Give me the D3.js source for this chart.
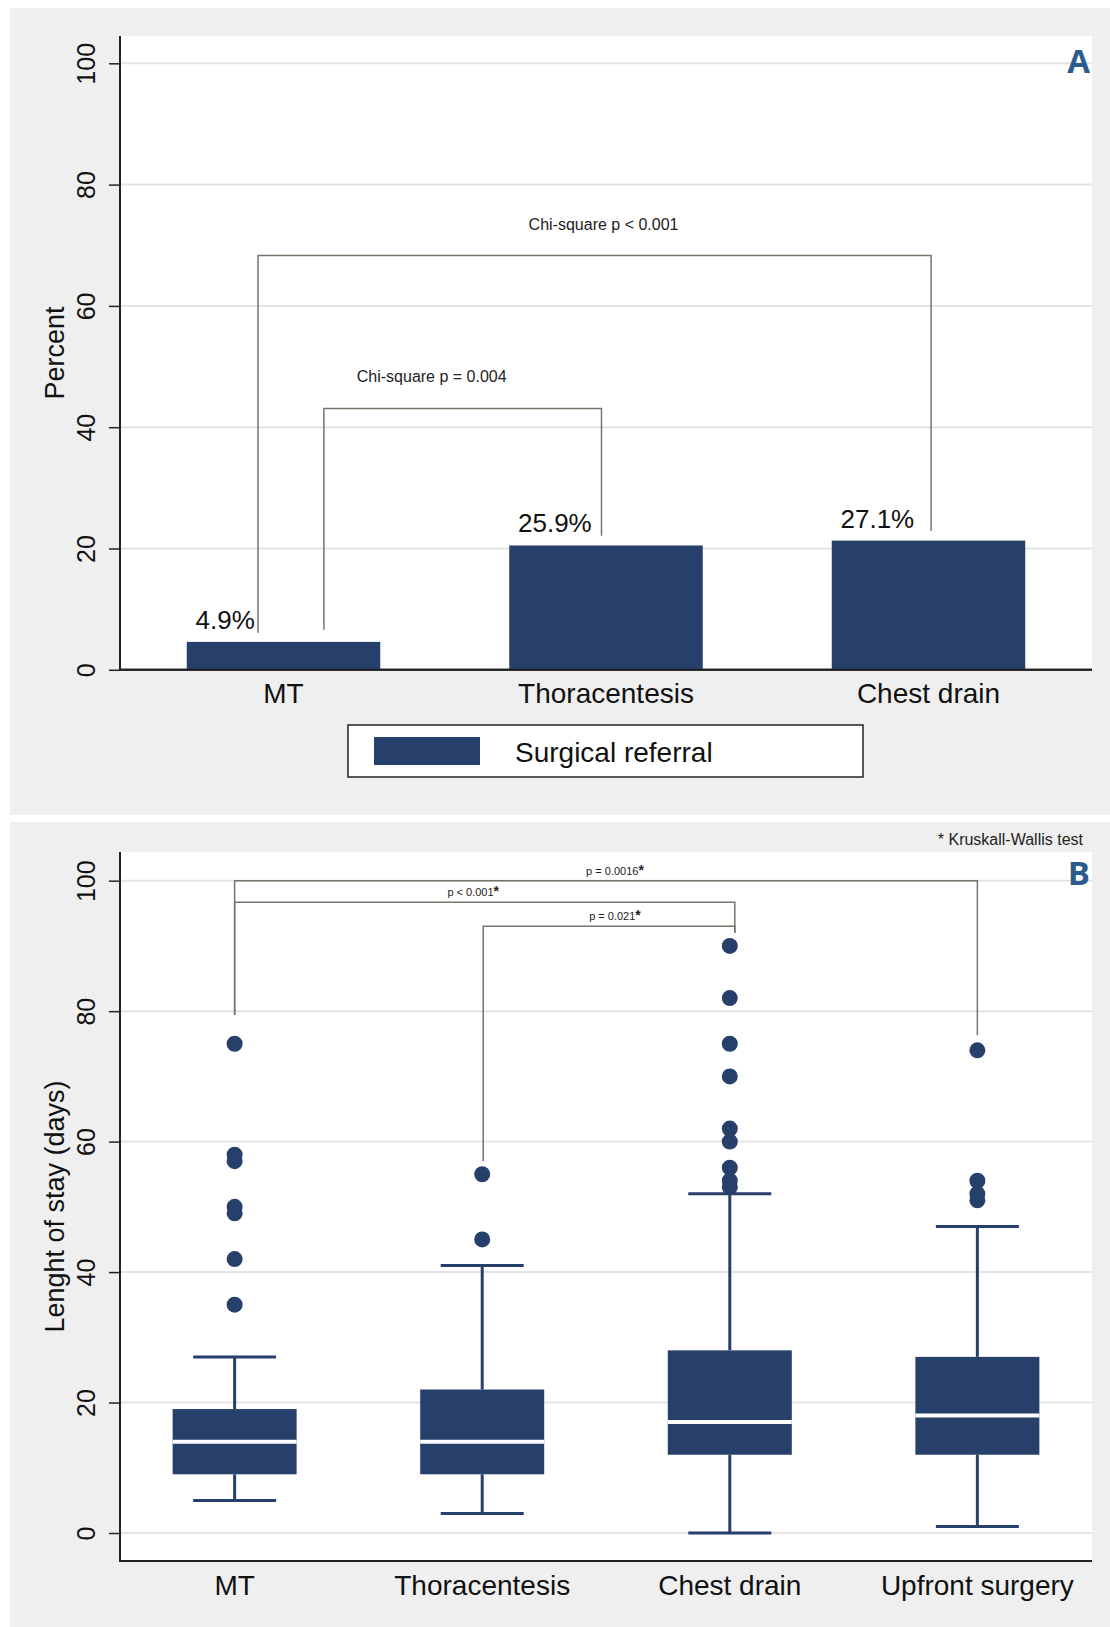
<!DOCTYPE html>
<html lang="en">
<head>
  <meta charset="UTF-8">
  <title>Surgical referral and length of stay</title>
  <script src="https://d3js.org/d3.v7.min.js"></script>
  <style>
    body { margin: 0; background: #fff; }
    svg { display: block; font-family: "Liberation Sans", Arial, sans-serif; }
  </style>
</head>
<body>
<div id="chart"></div>
<script>
// ---- panel A data ----
const barCats = ["MT", "Thoracentesis", "Chest drain"];
const barValues = [4.6, 20.5, 21.3];
const barLabels = ["4.9%", "25.9%", "27.1%"];
const yTicksA = [0, 20, 40, 60, 80, 100];
const legendLabel = "Surgical referral";

const testTextA = ["Chi-square p < 0.001", "Chi-square p = 0.004"];
const testPairA = [["MT", "Chest drain"], ["MT", "Thoracentesis"]];
const testTopA = [68.3, 43.1];
const testEndsA = [[6.1, 22.9], [6.6, 22.1]];

// ---- panel B data ----
const boxCats = ["MT", "Thoracentesis", "Chest drain", "Upfront surgery"];
const boxLow = [5, 3, 0, 1];
const boxQ1 = [9, 9, 12, 12];
const boxMed = [14, 14, 17, 18];
const boxQ3 = [19, 22, 28, 27];
const boxHigh = [27, 41, 52, 47];
const boxOutliers = [
  [75, 58, 57, 50, 49, 42, 35],
  [55, 45],
  [90, 82, 75, 70, 62, 60, 56, 54, 53],
  [74, 54, 52, 51]
];
const yTicksB = [0, 20, 40, 60, 80, 100];

const testTextB = ["p = 0.0016", "p < 0.001", "p = 0.021"];
const testPairB = [["MT", "Upfront surgery"], ["MT", "Chest drain"], ["Thoracentesis", "Chest drain"]];
const testTopB = [100, 96.7, 93.0];
const testEndsB = [[79.4, 76.3], [79.4, 92.0], [57.0, 92.0]];

// ---- layout ----
const navy = "#273f6b";
const panelBg = "#efefef";
const gridCol = "#e4e4e4";
const bracketCol = "#75756a";
const letterCol = "#2c5b8d";
const plotL = 120, plotR = 1092;

// bracket leg offsets (px from category centre) and text shift
const legDxA = [[-25.5, 2.6], [40.4, -4.5]];
const textDxA = [9, -31];
const legDxB = [[0, 0], [0, 5], [1, 5]];
const textDxB = [9, -11.5, 6];

const svg = d3.select("#chart").append("svg")
  .attr("width", 1110)
  .attr("height", 1627);

svg.append("rect").attr("x", 10).attr("y", 8).attr("width", 1100).attr("height", 807).attr("fill", panelBg);
svg.append("rect").attr("x", 10).attr("y", 822).attr("width", 1100).attr("height", 805).attr("fill", panelBg);

function yAxisPanel(y, ticks, top, bottom, title) {
  svg.append("rect")
    .attr("x", plotL).attr("y", top)
    .attr("width", plotR - plotL).attr("height", bottom - top)
    .attr("fill", "#fff");

  svg.append("g").selectAll("line")
    .data(ticks)
    .enter()
    .append("line")
    .attr("x1", plotL).attr("x2", plotR)
    .attr("y1", d => y(d)).attr("y2", d => y(d))
    .attr("stroke", gridCol)
    .attr("stroke-width", 2);

  const ax = svg.append("g")
    .attr("transform", "translate(" + plotL + ",0)")
    .call(d3.axisLeft(y).tickValues(ticks).tickSize(11).tickSizeOuter(0));
  ax.select(".domain").remove();
  ax.selectAll(".tick line").attr("stroke", "#222").attr("stroke-width", 1.5);
  ax.selectAll(".tick text")
    .attr("x", null).attr("dy", null)
    .attr("transform", "translate(-25.5,0) rotate(-90)")
    .attr("text-anchor", "middle")
    .attr("fill", "#111")
    .style("font-size", "25px")
    .style("font-family", "Liberation Sans, Arial, sans-serif");

  svg.append("line")
    .attr("x1", plotL).attr("x2", plotL)
    .attr("y1", top).attr("y2", bottom)
    .attr("stroke", "#222").attr("stroke-width", 2);
  svg.append("line")
    .attr("x1", plotL - 1).attr("x2", plotR)
    .attr("y1", bottom).attr("y2", bottom)
    .attr("stroke", "#222").attr("stroke-width", 2);

  svg.append("text")
    .attr("transform", "translate(64," + (top + bottom) / 2 + ") rotate(-90)")
    .attr("text-anchor", "middle")
    .attr("fill", "#111")
    .style("font-size", "27px")
    .text(title);
}

function brackets(g, x, y, pairs, tops, ends, legDx, textDx, texts, textGap, fontSize, star) {
  pairs.forEach(function(p, i) {
    const x1 = x(p[0]) + legDx[i][0];
    const x2 = x(p[1]) + legDx[i][1];
    g.append("path")
      .attr("d", "M" + x1 + "," + y(ends[i][0]) + "V" + y(tops[i]) + "H" + x2 + "V" + y(ends[i][1]))
      .attr("fill", "none")
      .attr("stroke", bracketCol)
      .attr("stroke-width", 1.5);
    const t = g.append("text")
      .attr("x", (x1 + x2) / 2 + textDx[i])
      .attr("y", y(tops[i]) - textGap)
      .attr("text-anchor", "middle")
      .attr("fill", "#222")
      .style("font-size", fontSize + "px")
      .text(texts[i]);
    if (star) {
      t.append("tspan").style("font-size", (fontSize + 3) + "px").style("font-weight", "bold").text("*");
    }
  });
}

// ================= Panel A =================
const yA = d3.scaleLinear().domain([0, 100]).range([669.8, 63.3]);
const xA = d3.scaleBand().domain(barCats).range([plotL, plotR]).paddingInner(0.4).paddingOuter(0.207);
const cA = d => xA(d) + xA.bandwidth() / 2;

yAxisPanel(yA, yTicksA, 36, yA(0), "Percent");

const gA = svg.append("g");
gA.selectAll("rect.bar")
  .data(barValues)
  .enter()
  .append("rect")
  .attr("class", "bar")
  .attr("x", (d, i) => xA(barCats[i]))
  .attr("y", d => yA(d))
  .attr("width", xA.bandwidth())
  .attr("height", d => yA(0) - yA(d))
  .attr("fill", navy);

// redraw x axis over bars
svg.append("line")
  .attr("x1", plotL - 1).attr("x2", plotR)
  .attr("y1", yA(0)).attr("y2", yA(0))
  .attr("stroke", "#222").attr("stroke-width", 2);

gA.selectAll("text.val")
  .data(barLabels)
  .enter()
  .append("text")
  .attr("class", "val")
  .attr("x", (d, i) => cA(barCats[i]) - 88)
  .attr("y", (d, i) => yA(barValues[i]) - 13)
  .attr("text-anchor", "start")
  .attr("fill", "#111")
  .style("font-size", "26px")
  .text(d => d);

brackets(gA, cA, yA, testPairA, testTopA, testEndsA, legDxA, textDxA, testTextA, 26, 16, false);

gA.selectAll("text.cat")
  .data(barCats)
  .enter()
  .append("text")
  .attr("class", "cat")
  .attr("x", d => cA(d))
  .attr("y", 703)
  .attr("text-anchor", "middle")
  .attr("fill", "#111")
  .style("font-size", "28px")
  .text(d => d);

// legend
svg.append("rect").attr("x", 348).attr("y", 725).attr("width", 515).attr("height", 52)
  .attr("fill", "#fff").attr("stroke", "#222").attr("stroke-width", 1.5);
svg.append("rect").attr("x", 374).attr("y", 737).attr("width", 106).attr("height", 28).attr("fill", navy);
svg.append("text").attr("x", 515).attr("y", 762)
  .attr("fill", "#111").style("font-size", "28px").text(legendLabel);

svg.append("text").attr("x", 1090).attr("y", 73)
  .attr("text-anchor", "end").attr("fill", letterCol)
  .style("font-family", "Open Sans, sans-serif").style("font-weight", "bold").style("font-size", "33px")
  .text("A");

// ================= Panel B =================
const yB = d3.scaleLinear().domain([0, 100]).range([1533, 880.7]);
const xB = d3.scalePoint().domain(boxCats).range([plotL, plotR]).padding(0.463);
const boxW = 124, capW = 83;

yAxisPanel(yB, yTicksB, 852, 1561, "Lenght of stay (days)");

const gB = svg.append("g");
boxCats.forEach(function(c, i) {
  const cx = xB(c);
  // whiskers
  gB.append("line").attr("x1", cx).attr("x2", cx).attr("y1", yB(boxHigh[i])).attr("y2", yB(boxQ3[i]))
    .attr("stroke", navy).attr("stroke-width", 3);
  gB.append("line").attr("x1", cx).attr("x2", cx).attr("y1", yB(boxQ1[i])).attr("y2", yB(boxLow[i]))
    .attr("stroke", navy).attr("stroke-width", 3);
  gB.append("line").attr("x1", cx - capW / 2).attr("x2", cx + capW / 2).attr("y1", yB(boxHigh[i])).attr("y2", yB(boxHigh[i]))
    .attr("stroke", navy).attr("stroke-width", 3);
  gB.append("line").attr("x1", cx - capW / 2).attr("x2", cx + capW / 2).attr("y1", yB(boxLow[i])).attr("y2", yB(boxLow[i]))
    .attr("stroke", navy).attr("stroke-width", 3);
  // box
  gB.append("rect")
    .attr("x", cx - boxW / 2).attr("y", yB(boxQ3[i]))
    .attr("width", boxW).attr("height", yB(boxQ1[i]) - yB(boxQ3[i]))
    .attr("fill", navy);
  gB.append("line").attr("x1", cx - boxW / 2).attr("x2", cx + boxW / 2).attr("y1", yB(boxMed[i])).attr("y2", yB(boxMed[i]))
    .attr("stroke", "#fff").attr("stroke-width", 4);
  // outliers
  gB.selectAll(null)
    .data(boxOutliers[i])
    .enter()
    .append("circle")
    .attr("cx", cx)
    .attr("cy", d => yB(d))
    .attr("r", 8)
    .attr("fill", navy);
});

brackets(gB, xB, yB, testPairB, testTopB, testEndsB, legDxB, textDxB, testTextB, 6, 11, true);

gB.selectAll("text.cat")
  .data(boxCats)
  .enter()
  .append("text")
  .attr("class", "cat")
  .attr("x", d => xB(d))
  .attr("y", 1595)
  .attr("text-anchor", "middle")
  .attr("fill", "#111")
  .style("font-size", "28px")
  .text(d => d);

svg.append("text").attr("x", 1083).attr("y", 845)
  .attr("text-anchor", "end").attr("fill", "#222")
  .style("font-size", "16px")
  .text("* Kruskall-Wallis test");

svg.append("text").attr("x", 1090).attr("y", 884.5)
  .attr("text-anchor", "end").attr("fill", letterCol)
  .style("font-family", "Open Sans, sans-serif").style("font-weight", "bold").style("font-size", "33px")
  .text("B");
</script>
</body>
</html>
